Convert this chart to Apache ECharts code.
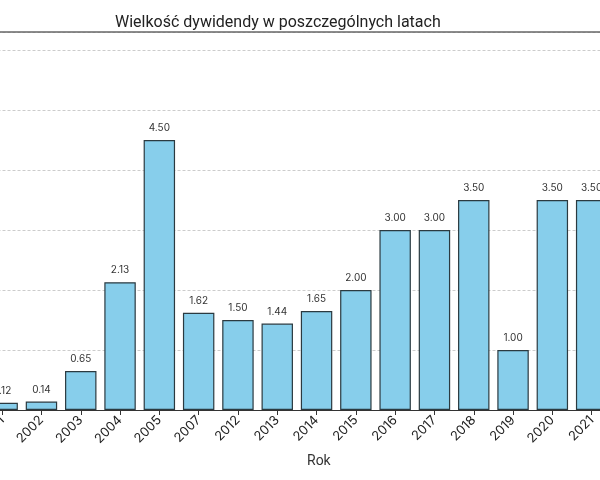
<!DOCTYPE html>
<html>
<head>
<meta charset="utf-8">
<script src="https://cdn.jsdelivr.net/npm/echarts@6/dist/echarts.min.js"></script>
<style>html,body{margin:0;padding:0;background:#fff}#c{width:600px;height:480px}</style>
</head>
<body>
<div id="c"></div>
<script>
const years = ['2001','2002','2003','2004','2005','2007','2012','2013','2014','2015','2016','2017','2018','2019','2020','2021'];
const dividends = [0.12, 0.14, 0.65, 2.13, 4.50, 1.62, 1.50, 1.44, 1.65, 2.00, 3.00, 3.00, 3.50, 1.00, 3.50, 3.50];
const titleText = 'Wielkość dywidendy w poszczególnych latach';
const xName = 'Rok';

const FONT = 'Inter, "Noto Sans", sans-serif';
const chart = echarts.init(document.getElementById('c'), null, {renderer: 'canvas'});
chart.setOption({
  animation: false,
  backgroundColor: '#fff',
  title: [
    {text: titleText, left: 110, top: 10, textStyle: {fontFamily: 'Roboto, sans-serif', fontSize: 16, fontWeight: 'normal', color: '#222'}},
    {text: xName, left: 302, top: 449, textStyle: {fontFamily: 'Roboto, sans-serif', fontSize: 14, fontWeight: 'normal', color: '#333'}}
  ],
  grid: {left: -17.5, width: 628.8, top: 32, bottom: 70, containLabel: false, outerBoundsMode: 'none'},
  xAxis: [
    {
      type: 'category', data: years, position: 'bottom',
      axisLine: {show: true, lineStyle: {color: '#333', width: 1.2}},
      axisTick: {show: true, alignWithLabel: true, length: 5, lineStyle: {color: '#333'}},
      axisLabel: {rotate: 45, fontFamily: FONT, fontSize: 13, color: '#222', margin: 8, interval: 0},
      splitLine: {show: false}
    },
    {
      type: 'category', data: years, position: 'top',
      axisLine: {show: true, lineStyle: {color: '#666', width: 1.5}},
      axisTick: {show: false}, axisLabel: {show: false}, splitLine: {show: false}
    }
  ],
  yAxis: {
    type: 'value', min: 0, max: 6.3, interval: 1,
    axisLine: {show: false}, axisTick: {show: false}, axisLabel: {show: false},
    splitLine: {show: true, lineStyle: {color: '#ccc', type: [3, 2], width: 1}}
  },
  series: [{
    type: 'bar', data: dividends, xAxisIndex: 0,
    barCategoryGap: '20%',
    itemStyle: {color: '#87CEEB', borderColor: '#2b3a40', borderWidth: 1.2},
    label: {show: true, position: 'top', distance: 7, fontFamily: FONT, fontSize: 10, color: '#333',
      formatter: p => p.value.toFixed(2)}
  }]
});
</script>
</body>
</html>
